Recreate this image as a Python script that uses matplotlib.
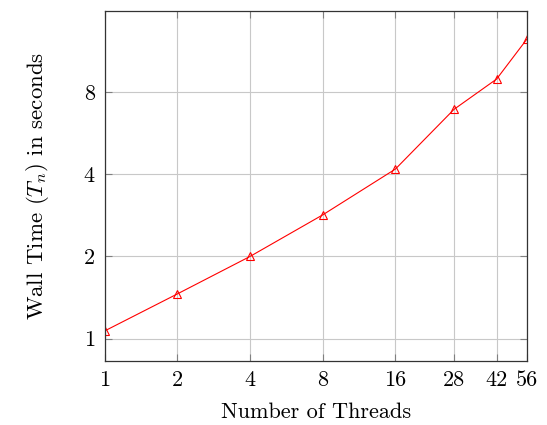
import matplotlib
matplotlib.use("Agg")
import matplotlib.pyplot as plt
from matplotlib.ticker import FixedLocator, FixedFormatter, NullLocator

plt.rcParams['font.family'] = 'serif'
plt.rcParams['font.serif'] = ['cmr10']
plt.rcParams['mathtext.fontset'] = 'cm'
plt.rcParams['axes.unicode_minus'] = False

# Wall time per thread count
threads = [1, 2, 4, 8, 16, 28, 42, 56]
wall_time = [1.067, 1.458, 2.0, 2.84, 4.18, 6.92, 8.93, 12.49]
x_ticks = [1, 2, 4, 8, 16, 28, 42, 56]
y_ticks = [1, 2, 4, 8]


def plot_data():
    fig = plt.figure(figsize=(5.47, 4.25), dpi=100)
    ax = fig.add_axes([0.1914, 0.1513, 0.7716, 0.8227])

    ax.plot(threads, wall_time, color='red', linewidth=0.8,
            marker='^', markersize=5.5, markerfacecolor='none',
            markeredgecolor='red', markeredgewidth=0.8)

    ax.set_xscale('log', base=2)
    ax.set_yscale('log', base=2)
    ax.set_xlim(1, 56)
    ax.set_ylim(0.83, 15.85)

    ax.xaxis.set_major_locator(FixedLocator(x_ticks))
    ax.xaxis.set_major_formatter(FixedFormatter([str(t) for t in x_ticks]))
    ax.xaxis.set_minor_locator(NullLocator())
    ax.yaxis.set_major_locator(FixedLocator(y_ticks))
    ax.yaxis.set_major_formatter(FixedFormatter([str(t) for t in y_ticks]))
    ax.yaxis.set_minor_locator(NullLocator())

    ax.grid(True, color='#c8c8c8', linewidth=0.8)
    ax.tick_params(direction='in', length=5, width=0.8, color='#808080',
                   top=True, right=True, labelsize=16, pad=7)
    for spine in ax.spines.values():
        spine.set_linewidth(0.9)
        spine.set_color('#333333')

    ax.set_xlabel('Number of Threads', fontsize=16, labelpad=9)
    ax.set_ylabel('Wall Time ($T_n$) in seconds', fontsize=16.5, labelpad=24)

    fig.savefig('out.png', dpi=100)


def main():
    plot_data()


if __name__ == "__main__":
    main()
